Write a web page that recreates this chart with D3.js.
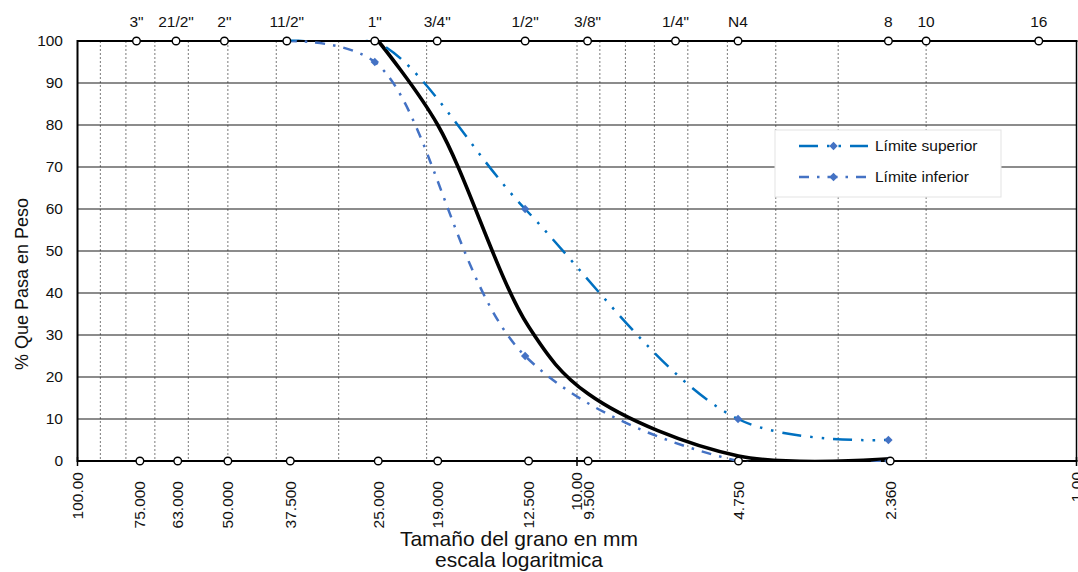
<!DOCTYPE html>
<html>
<head>
<meta charset="utf-8">
<script src="https://cdn.jsdelivr.net/npm/d3@7"></script>
<style>
  html, body { margin: 0; padding: 0; background: #fff; }
  svg { display: block; font-family: "Liberation Sans", Arial, sans-serif; }
</style>
</head>
<body>
<svg id="chart" width="1078" height="572"></svg>
<script>
// Sieve openings (mm) and their names along the top edge
const sieveNames = ['3"', '21/2"', '2"', '11/2"', '1"', '3/4"', '1/2"', '3/8"', '1/4"', 'N4', '8', '10', '16'];
const sieveOpenings = [76.2, 63.5, 50.8, 38.1, 25.4, 19.05, 12.7, 9.525, 6.35, 4.76, 2.38, 2.00, 1.19];

// Nominal sizes marked along the bottom edge
const nominalSizes = [75, 63, 50, 37.5, 25, 19, 12.5, 9.5, 4.75, 2.36];

// Main axis ticks
const axisTicks = [100, 10, 1];
const percentTicks = [0, 10, 20, 30, 40, 50, 60, 70, 80, 90, 100];

// Grading curve of the sample
const sampleSize = [25, 19, 12.5, 9.5, 4.75, 2.36];
const samplePass = [100, 80, 32, 16, 1.2, 0.5];

// Specification band
const limitSize = [38.1, 25.4, 12.7, 4.76, 2.38];
const upperPass = [100, 100, 60, 10, 5];
const lowerPass = [100, 95, 25, 0, 0];

const seriesNames = ["Límite superior", "Límite inferior"];

const svg = d3.select("#chart");
const pLeft = 77.5, pRight = 1076.5, pTop = 41, pBottom = 461;

const x = d3.scaleLog().domain([100, 1]).range([pLeft, pRight]);
const y = d3.scaleLinear().domain([0, 100]).range([pBottom, pTop]);

const ink = "#000";
const upperColor = "#0070C0";
const lowerColor = "#4472C4";
const markerColor = "#4472C4";

// clip region = plot area (a hair larger so lines riding the frame stay visible)
svg.append("defs").append("clipPath").attr("id", "plot")
  .append("rect").attr("x", pLeft).attr("y", pTop - 1.5)
  .attr("width", pRight - pLeft).attr("height", pBottom - pTop + 2.5);

// vertical log grid (dotted)
const minor = x.ticks().filter(v => v !== 100 && v !== 1);
svg.append("g").selectAll("line").data(minor).join("line")
  .attr("x1", d => x(d)).attr("x2", d => x(d))
  .attr("y1", pTop).attr("y2", pBottom)
  .attr("stroke", "#7a7a7a").attr("stroke-width", 1)
  .attr("stroke-dasharray", "2,2");

// horizontal grid
svg.append("g").selectAll("line").data(percentTicks.filter(v => v > 0 && v < 100)).join("line")
  .attr("x1", pLeft).attr("x2", pRight)
  .attr("y1", d => y(d)).attr("y2", d => y(d))
  .attr("stroke", "#1a1a1a").attr("stroke-width", 1.2);

// right edge
svg.append("line").attr("x1", pRight).attr("x2", pRight).attr("y1", pTop).attr("y2", pBottom)
  .attr("stroke", ink).attr("stroke-width", 1.5);

// frame: left, top and bottom
svg.append("line").attr("x1", pLeft).attr("x2", pLeft).attr("y1", pTop - 1).attr("y2", pBottom + 1)
  .attr("stroke", ink).attr("stroke-width", 2);
[pTop, pBottom].forEach(yy => {
  svg.append("line").attr("x1", pLeft).attr("x2", pRight + 1).attr("y1", yy).attr("y2", yy)
    .attr("stroke", ink).attr("stroke-width", 2);
});

// bottom axis ticks
svg.append("g").selectAll("line").data(axisTicks).join("line")
  .attr("x1", d => x(d)).attr("x2", d => x(d))
  .attr("y1", pBottom - 4).attr("y2", pBottom + 5)
  .attr("stroke", ink).attr("stroke-width", 1.5);

// y axis labels
svg.append("g").selectAll("text").data(percentTicks).join("text")
  .attr("x", 63).attr("y", d => y(d)).attr("dy", "0.35em")
  .attr("text-anchor", "end").attr("font-size", 15.5).attr("fill", "#111")
  .text(d => d);

// smoothed curves
const line = (sizes, vals) => d3.line()
  .x((d, i) => x(sizes[i])).y(d => y(d))
  .curve(d3.curveCatmullRom.alpha(0.5))(vals);

const curves = svg.append("g").attr("clip-path", "url(#plot)");
curves.append("path").attr("d", line(sampleSize, samplePass))
  .attr("fill", "none").attr("stroke", ink).attr("stroke-width", 3.6);
curves.append("path").attr("d", line(limitSize, lowerPass))
  .attr("fill", "none").attr("stroke", lowerColor).attr("stroke-width", 2.5)
  .attr("stroke-dasharray", "10,8,2.5,8");
curves.append("path").attr("d", line(limitSize, upperPass))
  .attr("fill", "none").attr("stroke", upperColor).attr("stroke-width", 2.5)
  .attr("stroke-dasharray", "19,9,2.5,9,2.5,9");

// diamond markers
const diamond = (cx, cy, r) => `M${cx},${cy - r}L${cx + r},${cy}L${cx},${cy + r}L${cx - r},${cy}Z`;
[lowerPass, upperPass].forEach(vals => {
  svg.append("g").selectAll("path").data(vals).join("path")
    .attr("d", (d, i) => diamond(x(limitSize[i]), y(d), 4.2))
    .attr("fill", markerColor);
});

// bottom axis labels
svg.append("g").selectAll("text").data(axisTicks).join("text")
  .attr("transform", d => `translate(${x(d)},472) rotate(-90)`)
  .attr("dy", "0.35em").attr("text-anchor", "end")
  .attr("font-size", 15.5).attr("fill", "#111")
  .text(d3.format(".2f"));

// sieve markers (circles) top and bottom
svg.append("g").selectAll("circle").data(sieveOpenings).join("circle")
  .attr("cx", d => x(d)).attr("cy", pTop).attr("r", 3.8)
  .attr("fill", "#fff").attr("stroke", ink).attr("stroke-width", 1.4);
svg.append("g").selectAll("circle").data(nominalSizes).join("circle")
  .attr("cx", d => x(d)).attr("cy", pBottom).attr("r", 3.8)
  .attr("fill", "#fff").attr("stroke", ink).attr("stroke-width", 1.4);

// sieve names on top
svg.append("g").selectAll("text").data(sieveOpenings).join("text")
  .attr("x", d => x(d)).attr("y", 27)
  .attr("text-anchor", "middle").attr("font-size", 15.5).attr("fill", "#111")
  .text((d, i) => sieveNames[i]);

// nominal size labels at bottom
svg.append("g").selectAll("text").data(nominalSizes).join("text")
  .attr("transform", d => `translate(${x(d)},481) rotate(-90)`)
  .attr("dy", "0.35em").attr("text-anchor", "end")
  .attr("font-size", 15.5).attr("fill", "#111")
  .text(d3.format(".3f"));

// axis titles
svg.append("text").attr("transform", "translate(22,284) rotate(-90)")
  .attr("dy", "0.35em").attr("text-anchor", "middle")
  .attr("font-size", 18).attr("fill", "#111").text("% Que Pasa en Peso");
svg.append("text").attr("x", 519).attr("y", 546).attr("text-anchor", "middle")
  .attr("font-size", 21).attr("fill", "#111").text("Tamaño del grano en mm");
svg.append("text").attr("x", 519).attr("y", 567).attr("text-anchor", "middle")
  .attr("font-size", 21).attr("fill", "#111").text("escala logaritmica");

// legend
const lg = svg.append("g");
lg.append("rect").attr("x", 775).attr("y", 130).attr("width", 226).attr("height", 67)
  .attr("fill", "#fff").attr("stroke", "#e3e3e3").attr("stroke-width", 1);
const legendStyles = [
  { color: upperColor, dash: "19,9,2.5,9,2.5,9" },
  { color: lowerColor, dash: "10,8,2.5,8" }
];
seriesNames.forEach((name, i) => {
  const yy = 146 + i * 31;
  lg.append("line").attr("x1", 799).attr("x2", 868).attr("y1", yy).attr("y2", yy)
    .attr("stroke", legendStyles[i].color).attr("stroke-width", 2.5)
    .attr("stroke-dasharray", legendStyles[i].dash);
  lg.append("path").attr("d", diamond(833.5, yy, 4.2)).attr("fill", markerColor);
  lg.append("text").attr("x", 875).attr("y", yy).attr("dy", "0.35em")
    .attr("font-size", 15.5).attr("fill", "#111").text(name);
});
</script>
</body>
</html>
